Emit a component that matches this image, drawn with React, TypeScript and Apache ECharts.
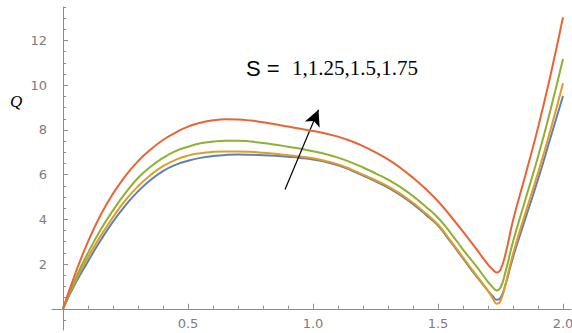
import React, { useEffect, useRef } from "react";
import * as echarts from "echarts";

// Shared x positions
const X_VALUES = [0, 0.05, 0.1, 0.15, 0.2, 0.25, 0.3, 0.35, 0.4, 0.45, 0.5, 0.55, 0.6, 0.65, 0.7, 0.75, 0.8, 0.85, 0.9, 0.95, 1.0, 1.05, 1.1, 1.15, 1.2, 1.25, 1.3, 1.35, 1.4, 1.45, 1.5, 1.55, 1.6, 1.65, 1.7, 1.72, 1.735, 1.75, 1.77, 1.8, 1.85, 1.9, 1.95, 2.0];

// Q values for S = 1, 1.25, 1.5, 1.75
const Q_S1 = [0, 1.15, 2.12, 3.05, 3.9, 4.63, 5.25, 5.76, 6.16, 6.44, 6.62, 6.75, 6.83, 6.88, 6.9, 6.89, 6.87, 6.84, 6.8, 6.75, 6.68, 6.57, 6.42, 6.21, 5.96, 5.7, 5.42, 5.08, 4.68, 4.22, 3.72, 3.0, 2.25, 1.5, 0.8, 0.55, 0.4, 0.48, 1.08, 2.3, 4.05, 5.78, 7.65, 9.52];
const Q_S125 = [0, 1.25, 2.3, 3.25, 4.1, 4.86, 5.48, 5.98, 6.38, 6.66, 6.85, 6.96, 7.02, 7.04, 7.04, 7.02, 6.98, 6.93, 6.87, 6.81, 6.73, 6.61, 6.46, 6.25, 6.0, 5.75, 5.48, 5.14, 4.74, 4.28, 3.77, 3.05, 2.3, 1.55, 0.8, 0.45, 0.22, 0.35, 1.1, 2.45, 4.3, 6.08, 8.0, 10.09];
const Q_S15 = [0, 1.35, 2.5, 3.52, 4.4, 5.18, 5.85, 6.35, 6.75, 7.05, 7.25, 7.4, 7.48, 7.52, 7.52, 7.48, 7.42, 7.34, 7.25, 7.16, 7.05, 6.92, 6.76, 6.56, 6.32, 6.06, 5.78, 5.44, 5.04, 4.58, 4.07, 3.4, 2.65, 1.95, 1.2, 0.95, 0.82, 0.95, 1.65, 3.0, 4.9, 6.8, 8.9, 11.17];
const Q_S175 = [0, 1.6, 3.0, 4.18, 5.15, 5.95, 6.6, 7.12, 7.55, 7.88, 8.15, 8.32, 8.43, 8.48, 8.47, 8.42, 8.34, 8.25, 8.15, 8.05, 7.95, 7.84, 7.7, 7.51, 7.28, 7.0, 6.68, 6.3, 5.86, 5.37, 4.81, 4.15, 3.45, 2.72, 1.98, 1.75, 1.62, 1.75, 2.45, 3.95, 6.0, 8.1, 10.45, 13.04];

const SERIES_NAMES = ["S=1", "S=1.25", "S=1.5", "S=1.75"];
const SERIES_COLORS = ["#5E81B5", "#E19C24", "#8FB032", "#EB6235"];

const X_MAJOR_TICKS = [0, 0.5, 1.0, 1.5, 2.0];
const X_LABELS = [0.5, 1.0, 1.5, 2.0];
const X_MINOR_TICKS = [0.1, 0.2, 0.3, 0.4, 0.6, 0.7, 0.8, 0.9, 1.1, 1.2, 1.3, 1.4, 1.6, 1.7, 1.8, 1.9];
const Y_MAJOR_TICKS = [2, 4, 6, 8, 10, 12];
const Y_LABELS = [2, 4, 6, 8, 10, 12];
const Y_MINOR_TICKS = [-0.5, 0.5, 1, 1.5, 2.5, 3, 3.5, 4.5, 5, 5.5, 6.5, 7, 7.5, 8.5, 9, 9.5, 10.5, 11, 11.5, 12.5, 13, 13.5];

// Arrow annotation (data coords)
const ARROW_FROM = [0.888, 5.34];
const ARROW_TO = [1.022, 8.9];

const AXIS_COLOR = "#8c8c8c";
const LABEL_COLOR = "#7c7c7c";

const Y_MIN = -0.95;
const Y_MAX = 13.5;
const GRID_TOP = 7;
const GRID_BOTTOM = 3;
const CHART_H = 333;

export default function App() {
  const ref = useRef<HTMLDivElement>(null);

  useEffect(() => {
    if (!ref.current) return;
    const chart = echarts.init(ref.current, null, { renderer: "svg" });
    const allQ = [Q_S1, Q_S125, Q_S15, Q_S175];

    const plotH = CHART_H - GRID_TOP - GRID_BOTTOM;
    const zeroOffset = -(plotH * (0 - Y_MIN)) / (Y_MAX - Y_MIN);

    const xCommon = {
      type: "value" as const,
      min: -0.044,
      max: 2.032,
      position: "bottom" as const,
      offset: zeroOffset,
      splitLine: { show: false },
    };
    const yCommon = {
      type: "value" as const,
      min: Y_MIN,
      max: Y_MAX,
      splitLine: { show: false },
    };

    const series: any[] = allQ.map((q, i) => ({
      name: SERIES_NAMES[i],
      type: "line",
      data: X_VALUES.map((x, j) => [x, q[j]]),
      smooth: 0.5,
      showSymbol: false,
      symbol: "none",
      lineStyle: { color: SERIES_COLORS[i], width: 2 },
      itemStyle: { color: SERIES_COLORS[i] },
      z: 2 + i,
    }));

    series.push({
      type: "line",
      data: [],
      markLine: {
        silent: true,
        animation: false,
        symbol: ["none", "arrow"],
        symbolSize: [12, 16],
        label: { show: false },
        lineStyle: { color: "#000", width: 1.2, type: "solid" },
        data: [[{ coord: ARROW_FROM }, { coord: ARROW_TO }]],
      },
      z: 10,
    });

    const labelFont = "'DejaVu Sans', 'Liberation Sans', sans-serif";

    chart.setOption({
      animation: false,
      grid: { left: 52, right: 1, top: GRID_TOP, bottom: GRID_BOTTOM, containLabel: false, outerBoundsMode: "none" },
      xAxis: [
        {
          ...xCommon,
          axisLine: { show: true, onZero: false, lineStyle: { color: AXIS_COLOR, width: 1 } },
          axisTick: { show: true, inside: true, length: 5, customValues: X_MAJOR_TICKS, lineStyle: { color: AXIS_COLOR } },
          axisLabel: {
            show: true,
            customValues: X_LABELS,
            color: LABEL_COLOR,
            fontSize: 13,
            fontFamily: labelFont,
            margin: 8,
            formatter: (v: number) => v.toFixed(1),
          },
        },
        {
          ...xCommon,
          axisLine: { show: false, onZero: false },
          axisTick: { show: true, inside: true, length: 3, customValues: X_MINOR_TICKS, lineStyle: { color: AXIS_COLOR } },
          axisLabel: { show: false },
        },
      ],
      yAxis: [
        {
          ...yCommon,
          axisLine: { show: true, onZero: true, onZeroAxisIndex: 0, lineStyle: { color: AXIS_COLOR, width: 1 } },
          axisTick: { show: true, inside: true, length: 5, customValues: Y_MAJOR_TICKS, lineStyle: { color: AXIS_COLOR } },
          axisLabel: {
            show: true,
            customValues: Y_LABELS,
            color: LABEL_COLOR,
            fontSize: 13,
            fontFamily: labelFont,
            margin: 5,
          },
        },
        {
          ...yCommon,
          position: "left",
          axisLine: { show: false, onZero: true, onZeroAxisIndex: 0 },
          axisTick: { show: true, inside: true, length: 3, customValues: Y_MINOR_TICKS, lineStyle: { color: AXIS_COLOR } },
          axisLabel: { show: false },
        },
      ],
      series,
      graphic: [
        {
          type: "text",
          left: 10,
          top: 93,
          style: {
            text: "Q",
            font: "italic 17px 'Liberation Serif', 'DejaVu Serif', serif",
            fill: "#000",
          },
        },
        {
          type: "text",
          x: 246,
          y: 68,
          style: {
            text: "S =",
            font: "22px 'Liberation Sans', Arial, sans-serif",
            fill: "#000",
            verticalAlign: "middle",
          },
        },
        {
          type: "text",
          x: 292,
          y: 68,
          style: {
            text: "1,1.25,1.5,1.75",
            font: "21px 'Liberation Serif', 'Times New Roman', serif",
            fill: "#000",
            verticalAlign: "middle",
          },
        },
      ],
    });

    return () => chart.dispose();
  }, []);

  return (
    <div
      ref={ref}
      style={{ position: "fixed", left: 0, top: 0, width: 572, height: 333, background: "#fff" }}
    />
  );
}
